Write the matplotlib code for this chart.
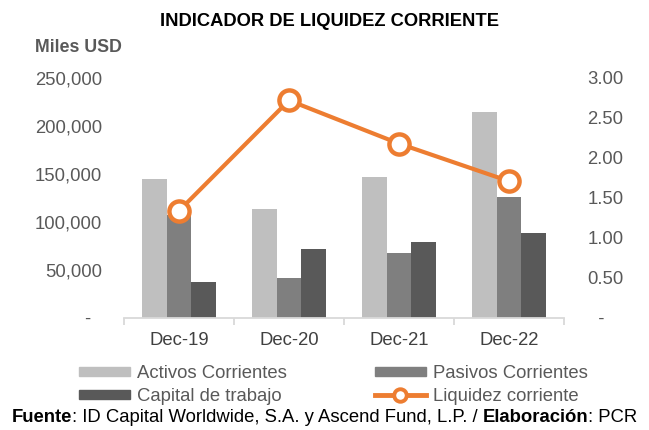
import matplotlib
matplotlib.use("Agg")
import matplotlib.pyplot as plt
import numpy as np
from matplotlib.ticker import FuncFormatter, FixedLocator
from matplotlib.lines import Line2D
from matplotlib.patches import Patch

plt.rcParams['font.family'] = ['Liberation Sans', 'DejaVu Sans']

categories = ["Dec-19", "Dec-20", "Dec-21", "Dec-22"]
activos = [144500, 113500, 147000, 215000]
pasivos = [107500, 41700, 67400, 126000]
capital = [37000, 71800, 79600, 89000]
liquidez = [1.34, 2.72, 2.18, 1.71]

c_act = "#BFBFBF"
c_pas = "#7F7F7F"
c_cap = "#595959"
c_liq = "#ED7D31"
txt = "#595959"
FS = 13.3

W, H = 649, 430
fig = plt.figure(figsize=(W/100, H/100), dpi=100)
ax = fig.add_axes([124/W, 1-318/H, (564-124)/W, (318-78)/H])
ax2 = ax.twinx()
ax.set_zorder(1); ax2.set_zorder(2)
ax.patch.set_visible(False)

x = np.arange(len(categories))
w = 0.223
ax.bar(x - w, activos, w, color=c_act)
ax.bar(x, pasivos, w, color=c_pas)
ax.bar(x + w, capital, w, color=c_cap)
ax.set_xlim(-0.5, len(categories) - 0.5)
ax.set_ylim(0, 250000)
ax.set_yticks(np.arange(0, 250001, 50000))
ax.yaxis.set_major_formatter(FuncFormatter(lambda v, p: "-  " if v == 0 else f"{int(v):,}"))

ax2.plot(x, liquidez, color=c_liq, lw=3, marker='o', markersize=14.5,
         markerfacecolor='white', markeredgecolor=c_liq, markeredgewidth=3.2,
         solid_capstyle='round')
ax2.set_ylim(0, 3.0)
ax2.set_yticks(np.arange(0, 3.01, 0.5))
ax2.yaxis.set_major_formatter(FuncFormatter(lambda v, p: "  -" if v == 0 else f"{v:.2f}"))

for a in (ax, ax2):
    for s in ["top", "left", "right"]:
        a.spines[s].set_visible(False)
    a.spines["bottom"].set_color("#D9D9D9")
    a.spines["bottom"].set_linewidth(1.3)
    a.tick_params(axis='y', length=0, labelsize=FS, labelcolor=txt)
ax2.spines["bottom"].set_visible(False)
ax.tick_params(axis='y', pad=16)
ax2.tick_params(axis='y', pad=17)

ax.set_xticks(x)
ax.set_xticklabels(categories)
ax.tick_params(axis='x', which='major', length=0, labelsize=FS, labelcolor="#404040", pad=10)
ax.xaxis.set_minor_locator(FixedLocator(np.arange(-0.5, len(categories), 1.0)))
ax.tick_params(axis='x', which='minor', length=5, color="#D9D9D9", width=1.3)

fig.text(330/W, 1-21/H, "INDICADOR DE LIQUIDEZ CORRIENTE", ha='center', va='center',
         fontsize=13.2, fontweight='bold', color='black')
fig.text(35/W, 1-48/H, "Miles USD", ha='left', va='center', fontsize=12.8,
         fontweight='bold', color=txt)

h_act = Patch(color=c_act)
h_pas = Patch(color=c_pas)
h_cap = Patch(color=c_cap)
h_liq = Line2D([], [], color=c_liq, lw=3.5, marker='o', markersize=9,
               markerfacecolor='white', markeredgecolor=c_liq, markeredgewidth=2.8)
leg = fig.legend([h_act, h_cap, h_pas, h_liq],
                 ["Activos Corrientes", "Capital de trabajo", "Pasivos Corrientes", "Liquidez corriente"],
                 ncol=2, loc='center left', bbox_to_anchor=(79/W, 1-385/H), frameon=False,
                 fontsize=FS, handlelength=2.76, handleheight=0.38, columnspacing=4.75,
                 labelspacing=0.3, handletextpad=0.38, borderpad=0, borderaxespad=0)
for t in leg.get_texts():
    t.set_color(txt)

# Source line with mixed bold segments
pieces = [("Fuente", 'bold'), (": ID Capital Worldwide, S.A. y Ascend Fund, L.P. / ", 'normal'),
          ("Elaboración", 'bold'), (": PCR", 'normal')]
fig.canvas.draw()
renderer = fig.canvas.get_renderer()
objs = []
for s, fw in pieces:
    t = fig.text(0, 1-417/H, s, ha='left', va='center', fontsize=FS, fontweight=fw, color='black')
    objs.append(t)
widths = [t.get_window_extent(renderer).width for t in objs]
total = sum(widths)
xpos = (W/2 - total/2)
for t, wd in zip(objs, widths):
    t.set_x(xpos / W)
    xpos += wd

fig.savefig("out.png", dpi=100)
